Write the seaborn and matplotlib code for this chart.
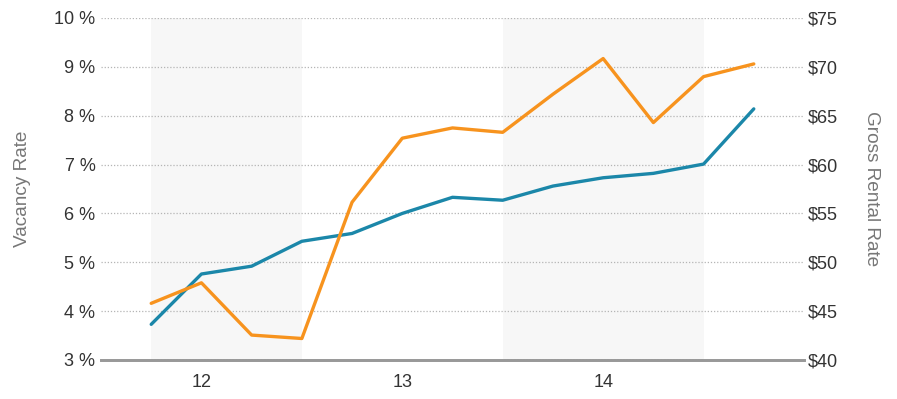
import matplotlib
import matplotlib.pyplot as plt
import pandas as pd
import seaborn as sns
from matplotlib.ticker import FuncFormatter

matplotlib.use("Agg")

# quarterly observations, index 0..12
quarters = list(range(13))
vacancy_rate = [3.73, 4.76, 4.92, 5.43, 5.59, 6.00, 6.33, 6.27, 6.56, 6.73, 6.82, 7.01, 8.14]
gross_rent = [45.8, 47.9, 42.55, 42.2, 56.15, 62.7, 63.75, 63.3, 67.2, 70.85, 64.3, 69.0, 70.3]

year_labels = ["12", "13", "14"]
year_ticks = [1, 5, 9]
shaded_spans = [(0, 3), (7, 11)]

BLUE = "#1b87a9"
ORANGE = "#f7931e"

sns.set_theme(style="white")
plt.rcParams["font.family"] = ["Liberation Sans", "DejaVu Sans"]

df = pd.DataFrame({"q": quarters, "vacancy": vacancy_rate, "rent": gross_rent})

fig = plt.figure(figsize=(8.97, 3.99), dpi=100)
ax = fig.add_axes([101 / 897, 1 - 360 / 399, 703 / 897, 342 / 399])
ax2 = ax.twinx()

for x0, x1 in shaded_spans:
    ax.axvspan(x0, x1, color="#f7f7f7", zorder=0, lw=0)

sns.lineplot(data=df, x="q", y="vacancy", ax=ax, color=BLUE, lw=2.4, zorder=3)
sns.lineplot(data=df, x="q", y="rent", ax=ax2, color=ORANGE, lw=2.4, zorder=3)

ax.set_xlim(-1, 13)
ax.set_ylim(3, 10)
ax2.set_ylim(40, 75)
ax.set_yticks(range(3, 11))
ax2.set_yticks(range(40, 80, 5))
ax.yaxis.set_major_formatter(FuncFormatter(lambda v, _: f"{v:.0f} %"))
ax2.yaxis.set_major_formatter(FuncFormatter(lambda v, _: f"${v:.0f}"))
ax.set_xticks(year_ticks)
ax.set_xticklabels(year_labels)

ax.grid(axis="y", color="#b5b5b5", linestyle=(0, (1, 1.5)), lw=0.9)
ax.set_axisbelow(True)
ax2.grid(False)

for a in (ax, ax2):
    for side in ("top", "left", "right"):
        a.spines[side].set_visible(False)
    a.spines["bottom"].set_color("#999999")
    a.spines["bottom"].set_linewidth(2)
    a.tick_params(length=0, labelsize=13, labelcolor="#333333")
    a.patch.set_visible(False)

ax.tick_params(axis="y", pad=4)
ax2.tick_params(axis="y", pad=3)
ax.tick_params(axis="x", pad=10)

ax.set_xlabel("")
ax.set_ylabel("Vacancy Rate", fontsize=13.7, color="#777777", labelpad=17)
ax2.set_ylabel("Gross Rental Rate", fontsize=13.7, color="#777777", rotation=270, labelpad=30)

fig.savefig("out.png", dpi=100)
